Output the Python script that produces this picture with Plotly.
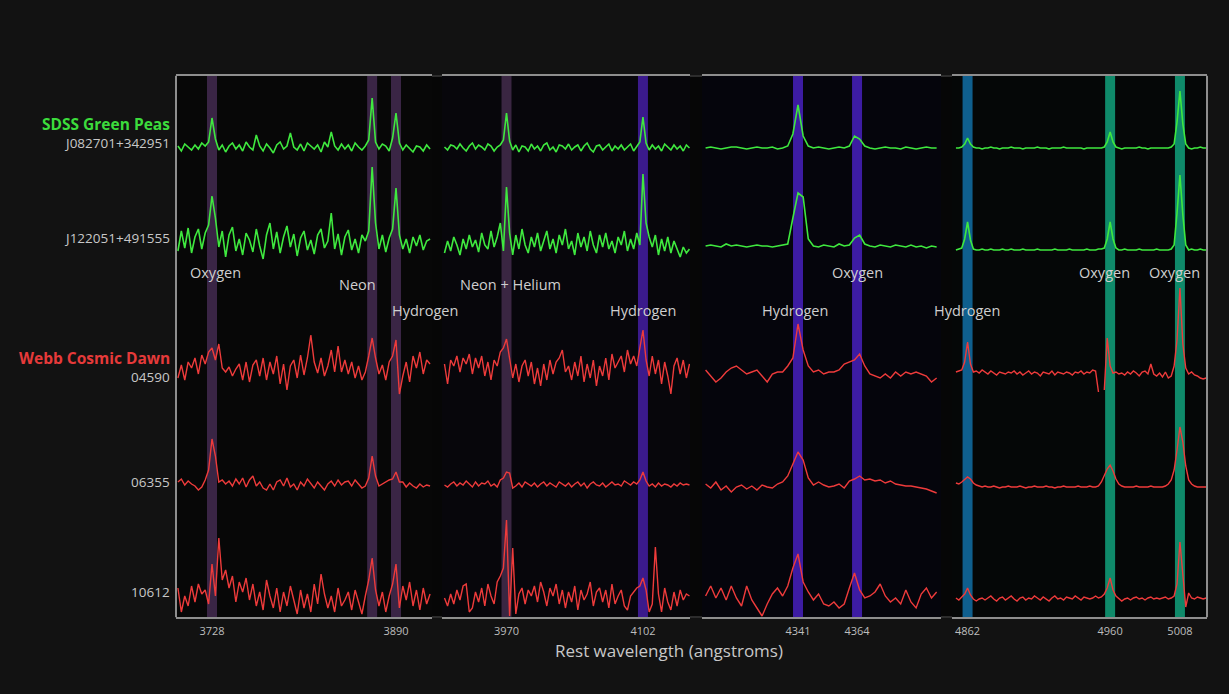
import plotly.graph_objects as go

# ---------------- data ----------------
# wavelength grids of the four panels (start, step in angstroms)
GRID_START = [3698, 3910, 4305, 4854]
GRID_STEP = [3, 3, 2, 2]
PANEL_RANGE = [[3696.3, 3921.7], [3907.6, 4147.5], [4303.6, 4396.7], [4851.3, 5026.6]]
TICKS = [[3728, 3890], [3970, 4102], [4341, 4364], [4862, 4960, 5008]]

# emission-line bands: wavelength, panel, colour
BAND_WL = [3728, 3869, 3890, 3970, 4102, 4341, 4364, 4862, 4960, 5008]
BAND_PANEL = [0, 0, 0, 1, 1, 2, 2, 3, 3, 3]
BAND_COLOR = ["#3a2545", "#3a2545", "#3a2545", "#3a2642", "#3b1a8c",
              "#3d1ca3", "#3d1ca3", "#0f5f8e", "#0f8a6a", "#0f8a6a"]

LINE_LABELS = ["Oxygen", "Neon", "Hydrogen", "Neon + Helium", "Hydrogen",
               "Hydrogen", "Oxygen", "Hydrogen", "Oxygen", "Oxygen"]
LABEL_ROW = [0, 1, 2, 1, 2, 2, 0, 2, 0, 0]
LABEL_SHIFT = [3, -15, 29, 4, 0, -3, 0, -1, -6, -5]

GROUPS = ["SDSS Green Peas", "Webb Cosmic Dawn"]
SERIES_NAMES = ["J082701+342951", "J122051+491555", "04590", "06355", "10612"]

# flux above each spectrum's own baseline (relative units)
G1_P1 = [2, -3, 4, 1, -2, 3, -1, 5, 2, 6,
         30, 9, -2, 3, -4, 2, 5, -1, 3, -3,
         6, 1, -2, 13, 2, -3, 4, 0, -5, 3,
         6, -1, 2, 15, 1, -2, 4, -3, 5, 2,
         -1, 3, -4, 6, 1, 16, 2, -2, 4, -1,
         3, -3, 5, 1, -2, 2, 8, 50, 6, -1,
         4, 2, -3, 10, 35, 5, -2, 3, -1, -4,
         2, 1, -3, 3, -1]
G1_P2 = [1, -2, 3, 2, -1, 4, 0, -3, 2, 5,
         -1, 3, 1, -2, 4, 2, -3, 1, 3, 8,
         35, 7, -2, 3, -4, 2, 1, -3, 4, -1,
         2, -3, 3, 5, -2, 1, -4, 3, 2, -1,
         4, -2, 1, 3, -3, 2, 5, -1, -4, 2,
         3, -2, 1, 4, -3, 2, -1, 3, -2, 1,
         4, -3, 2, 6, 31, 5, -2, 3, -1, 2,
         -3, 4, 1, -2, 3, -1, 2, -3, 3, 0]
G1_P3 = [0, 1, 0, -1, 0, 1, 1, 0, -1, 0,
         1, 0, 0, 1, -1, 0, 2, 14, 43, 12,
         2, 0, 1, 0, -1, 0, 1, 0, 2, 12,
         9, 2, 0, -1, 0, 1, 0, 0, -1, 1,
         0, -1, 0, 1, 0, 0]
G1_P4 = [0, 0, 1, 4, 10, 4, 1, 0, 0, -1,
         0, 0, 1, 0, 0, -1, 0, 0, 0, 1,
         0, 0, 0, -1, 0, 0, 0, 0, 1, 0,
         0, 0, -1, 0, 0, 0, 0, 1, 0, 0,
         0, 0, 0, 0, -1, 0, 0, 0, 0, 0,
         0, 1, 6, 16, 6, 1, 0, -1, 0, 0,
         0, 0, 0, 1, 0, 0, -1, 0, 0, 0,
         0, 0, 0, 0, 1, 4, 26, 57, 24, 4,
         0, -1, 0, 0, 1, 0, 0]

G2_P1 = [-8, 12, -5, 15, -10, 6, 14, -6, 10, 18,
         47, 25, -4, 12, -14, 8, 16, -8, 4, -12,
         10, 3, -9, 14, -3, -16, 8, 20, -6, 11,
         -10, 6, 17, -4, 9, -13, 5, 12, -7, 3,
         -11, 8, 14, -5, 2, 30, -6, 9, -12, 6,
         13, -7, 4, -10, 8, 2, 12, 76, 20, -6,
         8, -9, 5, 14, 55, 8, -6, 4, -10, 6,
         -3, 8, -7, 2, 4]
G2_P2 = [-10, 2, -8, 6, -2, -12, 4, -6, 8, -4,
         3, -9, 10, -2, -6, 12, -4, 6, 20, -8,
         56, 10, -12, 8, -6, 14, -2, -10, 6, -4,
         10, -8, 2, 12, -6, 4, -10, 8, -2, 14,
         -6, 2, -12, 10, -4, 6, -8, 12, -2, -10,
         8, -4, 10, -6, 2, -10, 6, -2, 12, -8,
         4, -6, 10, -2, 69, 20, 6, -4, 8, -12,
         4, -8, 6, -10, 2, -6, -14, -4, -10, -6]
G2_P3 = [-3, -2, -3, -4, -1, -3, -2, -3, -4, -3,
         -2, -3, -3, -4, -3, -2, -1, 25, 50, 46,
         4, -3, -4, -2, -3, -4, -1, -3, -2, 5,
         8, -1, -3, -4, -2, -3, -4, -2, -3, -4,
         -2, -4, -3, -5, -3, -4]
G2_P4 = [-7, -6, -5, 4, 21, 3, -6, -7, -7, -6,
         -7, -7, -6, -7, -7, -7, -6, -7, -7, -6,
         -7, -7, -7, -6, -7, -7, -7, -7, -6, -7,
         -7, -7, -7, -7, -6, -7, -7, -7, -7, -6,
         -7, -7, -7, -7, -7, -6, -7, -7, -7, -6,
         -6, -5, 4, 21, 4, -5, -7, -7, -6, -7,
         -7, -7, -7, -6, -7, -7, -7, -7, -7, -6,
         -7, -7, -7, -7, -6, -2, 30, 68, 28, -2,
         -7, -6, -7, -7, -6, -7, -7]

R1_P1 = [-8, 5, -10, 8, 2, 12, -4, 15, 6, 18,
         22, 10, 26, 2, -2, 3, -6, 1, 6, -10,
         8, -12, 5, 10, -6, 12, -10, 8, -4, 14,
         -14, 6, -20, 4, 10, -8, 15, -5, 12, 35,
         8, -3, 12, -6, 4, 20, -2, 24, -2, 10,
         -4, 8, -8, 4, -10, -2, 14, 32, 12, -4,
         5, -10, 8, 14, 30, -24, -6, 8, -12, 14,
         2, 18, -4, 10, 6]
R1_P2 = [6, -14, 10, 4, 14, -2, 12, 6, 16, -4,
         12, 2, 14, -6, 8, -10, 10, 4, 18, 22,
         31, 12, -8, 6, -12, 4, 10, -6, 8, -14,
         2, -16, 6, -10, 10, -4, 8, 12, 20, -2,
         4, -10, 8, -6, 14, -12, 6, -8, 10, -16,
         4, -6, 12, -10, 16, 2, 8, 14, -2, 20,
         6, 14, 4, 24, 40, 10, -6, 14, -4, 10,
         -14, 8, -6, -24, 4, 12, -4, 10, -8, 6]
R1_P3 = [0, -6, -12, -8, -2, 2, 4, 0, -4, -2,
         0, -6, -12, -4, -2, -2, 4, 12, 46, 20,
         4, -2, 0, -4, -2, -2, 0, 6, 8, 10,
         16, 4, -4, -6, -8, -4, -8, -2, -6, -2,
         -4, -2, -4, -6, -12, -8]
R1_P4 = [-2, -1, 0, 8, 28, 6, -2, -1, -3, 0,
         -2, -4, -1, -3, -5, -2, -3, -4, -2, -3,
         -1, -4, -2, -5, -3, -1, -4, -2, -3, -6,
         -2, -3, -4, -1, -5, -2, -3, -4, -2, -3,
         -5, -2, -3, -1, -4, -2, -3, 0, -1, -22,
         None, -20, 32, 4, -3, -2, -4, -3, -5, -2,
         -4, -1, -3, -6, -2, -1, -4, 6, -4, -6,
         -3, -7, -2, -8, -6, 4, 30, 82, 26, 2,
         -4, -2, -5, -6, -8, -9, -8]

R2_P1 = [2, 5, -1, 3, 0, -2, -6, -3, 4, 14,
         45, 28, 2, 4, 0, 3, -2, 5, 0, 6,
         -3, 4, 8, -2, 2, -4, -6, 0, -6, 2,
         4, -2, 6, -3, 0, -6, 2, -2, 5, 0,
         -4, 2, -2, -6, 0, 3, -2, 4, -1, 2,
         3, -2, 4, 0, -4, -2, 6, 28, 8, -2,
         0, 2, 4, 5, 12, 2, 2, -3, 1, -2,
         -4, 0, -3, -1, -2]
R2_P2 = [-1, -3, 0, 2, -2, 1, -1, 3, 0, -3,
         2, -2, 1, 0, 3, -2, 0, -3, 4, 6,
         12, 11, -4, -2, 1, -3, 2, 0, -2, 1,
         -3, 0, 2, -2, 1, -1, -3, 2, 0, -2,
         1, -3, 0, 2, -2, 1, -4, 0, 2, -1,
         -2, 1, -3, 0, 2, -1, 0, -2, 3, 1,
         -1, 2, 0, 4, 12, 3, -2, 0, -3, 1,
         -2, 0, -1, -3, 0, -2, 1, -1, 0, -1]
R2_P3 = [0, -4, 2, -6, -2, -8, -3, -1, -5, -2,
         -6, -1, -3, -4, 0, 2, 8, 20, 32, 24,
         6, -1, 2, -1, -3, -2, 0, -4, 3, 5,
         8, 4, 5, 3, 4, 1, 3, 0, -1, -2,
         -2, -3, -4, -5, -7, -9]
R2_P4 = [1, 0, 2, 5, 7, 5, 1, -1, -2, -3,
         -2, -3, -3, -2, -3, -4, -3, -3, -2, -3,
         -3, -3, -2, -3, -4, -3, -3, -2, -3, -3,
         -3, -2, -3, -3, -4, -3, -3, -2, -3, -3,
         -3, -3, -2, -3, -3, -3, -2, -3, -3, -2,
         2, 8, 15, 19, 13, 5, 0, -2, -3, -3,
         -3, -3, -2, -3, -3, -3, -3, -2, -3, -3,
         -3, -3, -2, 0, 4, 14, 34, 57, 42, 18,
         4, 0, -2, -3, -3, -3, -3]

R3_P1 = [10, -14, 2, -8, 12, -4, 14, 4, 8, -6,
         34, 2, 60, 18, 28, 10, 22, -4, 16, 6,
         20, -2, 14, -8, 6, -12, 18, 2, -10, 10,
         -14, 6, -8, 12, -2, -16, 8, -10, 4, -14,
         14, -6, 24, 4, -10, 2, -14, 10, -8, -2,
         6, -12, 8, -4, -16, 2, 18, 40, 8, -8,
         6, -14, 2, 14, 34, -10, 12, -2, 16, -8,
         8, -12, 10, -6, 4]
R3_P2 = [0, -8, 4, -6, 8, -2, 12, 14, -14, -10,
         6, -4, 10, -8, 14, 2, -6, 16, 22, 30,
         78, -18, 50, -16, 4, 10, -6, 8, 2, 12,
         -4, 16, 6, -8, 10, 2, 14, -6, 8, -10,
         6, -4, 12, -12, 8, -2, 4, 16, -8, 6,
         10, -4, 8, -10, 14, -6, 2, 8, -8, -12,
         2, 6, 10, 12, 20, 8, -14, -6, 51, 4,
         -14, 10, -4, -12, 6, -8, 8, -2, 4, 2]
R3_P3 = [2, 12, 0, 10, -2, 12, 0, -8, 12, -2,
         -10, -18, -6, 4, 10, 2, 12, 30, 44, 16,
         6, -2, 4, -6, -8, -4, -10, -6, 10, 25,
         8, 0, 2, 6, 14, 2, -4, 0, -6, 8,
         -4, -10, 4, 10, 0, 6]
R3_P4 = [0, -2, 1, 4, 10, 3, -1, -3, -1, 0,
         -2, 0, 2, -1, -3, 0, 1, -2, 0, 2,
         -1, -3, 0, 1, -2, 0, -1, 2, 0, -2,
         1, -1, -3, 0, 2, -1, 0, -2, 1, 0,
         -1, 2, 0, -2, 1, 0, -1, 0, 2, 0,
         1, 4, 10, 20, 8, 2, -1, -3, -1, 0,
         -2, 0, 1, -1, 0, -2, 0, 1, -1, 0,
         -1, 0, 1, -1, 0, 2, 14, 56, 20, -9,
         5, 0, -1, 1, 0, -1, 0]

SPECTRA = [[G1_P1, G1_P2, G1_P3, G1_P4],
           [G2_P1, G2_P2, G2_P3, G2_P4],
           [R1_P1, R1_P2, R1_P3, R1_P4],
           [R2_P1, R2_P2, R2_P3, R2_P4],
           [R3_P1, R3_P2, R3_P3, R3_P4]]

# ---------------- layout / style ----------------
W, H = 1229, 694
L, R, T, B = 176, 22, 76, 77
PW = W - L - R
PH = H - T - B
PANEL_PX = [(176, 432), (442, 690), (702, 941), (952, 1207)]
BASELINE_PX = [148, 243, 370, 484, 598]          # pixel row of each spectrum's baseline
SERIES_COLOR = ["#3fe83f", "#3fe83f", "#ee3b3b", "#ee3b3b", "#ee3b3b"]
PANEL_BG = ["#070707", "#07060b", "#05050c", "#050707"]
BAND_PX = 10
ROW_PX = [272, 284, 310]
FONT = "Open Sans, Lato, sans-serif"
TICKFONT = "Liberation Sans Narrow, Open Sans, sans-serif"

for s in SPECTRA:
    for p, v in enumerate(s):
        start, step = GRID_START[p], GRID_STEP[p]
        assert start + step * (len(v) - 1) <= PANEL_RANGE[p][1] + 0.01, (p, len(v))

axis_ids = ["x", "x2", "x3", "x4"]
fig = go.Figure()

for k, series in enumerate(SPECTRA):
    off = (T + PH) - BASELINE_PX[k]
    for p, vals in enumerate(series):
        xs = [GRID_START[p] + GRID_STEP[p] * i for i in range(len(vals))]
        ys = [None if v is None else off + v for v in vals]
        fig.add_trace(go.Scatter(
            x=xs, y=ys, mode="lines", xaxis=axis_ids[p], yaxis="y",
            line=dict(color=SERIES_COLOR[k], width=1.6 if k < 2 else 1.4),
            hoverinfo="skip", showlegend=False, connectgaps=False))

layout = dict(
    width=W, height=H,
    margin=dict(l=L, r=R, t=T, b=B, pad=0),
    paper_bgcolor="#121212", plot_bgcolor="#060606",
    showlegend=False,
    yaxis=dict(range=[0, PH], visible=False, fixedrange=True, domain=[0, 1]),
)
scales = []
for p in range(4):
    x0, x1 = PANEL_PX[p]
    dom = [(x0 - L) / PW, (x1 - L) / PW]
    rng = PANEL_RANGE[p]
    scales.append((x1 - x0) / (rng[1] - rng[0]))
    key = "xaxis" if p == 0 else f"xaxis{p + 1}"
    layout[key] = dict(
        domain=dom, range=rng, anchor="y",
        tickvals=TICKS[p], ticktext=[str(t) for t in TICKS[p]],
        showgrid=False, zeroline=False,
        showline=True, linecolor="#8e8e8e", linewidth=2, mirror=True,
        ticks="outside", ticklen=3, tickcolor="rgba(0,0,0,0)",
        tickfont=dict(size=11, color="#bdbdbd", family=TICKFONT),
        fixedrange=True,
    )
fig.update_layout(**layout)

shapes = [dict(type="rect", xref="paper", yref="paper", x0=0, x1=1, y0=0, y1=1,
               fillcolor="#060606", line=dict(color="#2c2c2c", width=2), layer="below")]
for p in range(4):
    shapes.append(dict(type="rect", xref=axis_ids[p], yref="paper",
                       x0=PANEL_RANGE[p][0], x1=PANEL_RANGE[p][1], y0=0, y1=1,
                       fillcolor=PANEL_BG[p], line=dict(width=0), layer="below"))
for wl, p, c in zip(BAND_WL, BAND_PANEL, BAND_COLOR):
    hw = BAND_PX / scales[p] / 2
    shapes.append(dict(type="rect", xref=axis_ids[p], yref="paper",
                       x0=wl - hw, x1=wl + hw, y0=0, y1=1,
                       fillcolor=c, line=dict(width=0), layer="below"))
for xp in (0, 1):
    shapes.append(dict(type="line", xref="paper", yref="paper", x0=xp, x1=xp, y0=0, y1=1,
                       line=dict(color="#8e8e8e", width=2), layer="above"))
fig.update_layout(shapes=shapes)

ann = []
for wl, p, txt, row, sh in zip(BAND_WL, BAND_PANEL, LINE_LABELS, LABEL_ROW, LABEL_SHIFT):
    ann.append(dict(x=wl, xref=axis_ids[p], y=(T + PH) - ROW_PX[row], yref="y",
                    text=txt, showarrow=False, xshift=sh, xanchor="center", yanchor="middle",
                    font=dict(size=14.5, color="#cfcfcf", family=FONT)))

left_x = -4 / PW
group_rows = [124, 358]
group_colors = ["#3cdc3c", "#e63a3a"]
for g, (txt, py, col) in enumerate(zip(GROUPS, group_rows, group_colors)):
    ann.append(dict(x=left_x, xref="paper", y=(T + PH) - py, yref="y", text=f"<b>{txt}</b>",
                    showarrow=False, xanchor="right", yanchor="middle",
                    font=dict(size=15.5, color=col, family=FONT)))
name_rows = [143, 238, 377, 482, 592]
for txt, py in zip(SERIES_NAMES, name_rows):
    ann.append(dict(x=left_x, xref="paper", y=(T + PH) - py, yref="y", text=txt,
                    showarrow=False, xanchor="right", yanchor="middle",
                    font=dict(size=13.5, color="#c8c8c8", family=FONT)))
ann.append(dict(x=(669 - L) / PW, xref="paper", y=-(650 - (T + PH)) / PH, yref="paper",
                text="Rest wavelength (angstroms)", showarrow=False,
                xanchor="center", yanchor="middle",
                font=dict(size=17, color="#c8c8c8", family=FONT)))
fig.update_layout(annotations=ann)

fig.write_html(
    "out.html",
    config={"displayModeBar": False},
    post_script="document.body.style.margin='0';document.body.style.padding='0';"
                "document.body.style.background='#121212';document.body.style.overflow='hidden';",
)
